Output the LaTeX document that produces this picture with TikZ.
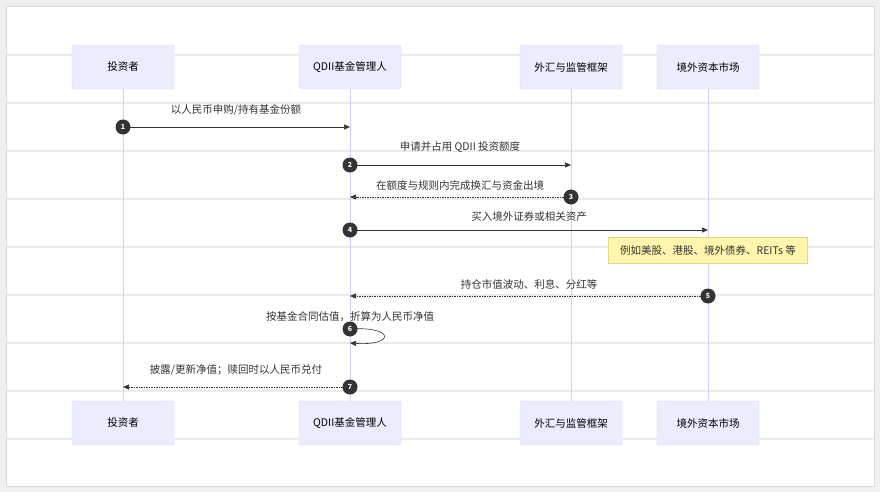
\documentclass[tikz,border=0pt]{standalone}
\usepackage{fontspec}
\setmainfont{Noto Sans CJK SC}
\usetikzlibrary{arrows.meta}
\definecolor{actfill}{HTML}{ECECFF}
\definecolor{actline}{HTML}{DCD6FA}
\definecolor{lifeline}{HTML}{D5CCF5}
\definecolor{stripe}{HTML}{EBEBEB}
\definecolor{frame}{HTML}{F0F0F0}
\definecolor{notefill}{HTML}{FFF5AD}
\definecolor{noteline}{HTML}{E3D887}
\definecolor{msg}{HTML}{333333}
\tikzset{
  actor/.style={draw=actline, fill=actfill, rounded corners=2pt, minimum width=102pt, minimum height=44pt, font=\fontsize{10.5}{12}\selectfont},
  lbl/.style={font=\fontsize{10.5}{12}\selectfont, text=msg, inner sep=0pt},
  num/.style={circle, fill=msg, text=white, inner sep=0pt, minimum size=15pt, font=\fontsize{7}{8}\selectfont\bfseries},
  call/.style={draw=msg, line width=0.6pt, -{Triangle[length=6pt,width=5pt]}},
  reply/.style={call, dash pattern=on 1.5pt off 1pt},
}
\begin{document}
\begin{tikzpicture}[x=1pt,y=-1pt]
	% FRAME
	\fill[frame] (0,0) rectangle (880,492);
	\draw[white!85!black, fill=white] (6,6) rectangle (874,486);
	\useasboundingbox (0,0) rectangle (880,492);
	\foreach \y in {55,103,151,199,247,295,343,391,439}
		\draw[stripe, line width=1.2pt] (7,\y) -- (873,\y);
	
	% ACTORS
	\node[actor] (inv) at (123,67) {投资者};
	\node[actor] (mgr) at (350,67) {QDII基金管理人};
	\node[actor] (fx) at (571,67) {外汇与监管框架};
	\node[actor] (mkt) at (708,67) {境外资本市场};
	\node[actor] (inv2) at (123,423) {投资者};
	\node[actor] (mgr2) at (350,423) {QDII基金管理人};
	\node[actor] (fx2) at (571,423) {外汇与监管框架};
	\node[actor] (mkt2) at (708,423) {境外资本市场};
	
	% LIFELINES
	\draw[lifeline, line width=0.8pt] (inv) -- (inv2); \draw[lifeline, line width=0.8pt] (mgr) -- (mgr2);
	\draw[lifeline, line width=0.8pt] (fx) -- (fx2); \draw[lifeline, line width=0.8pt] (mkt) -- (mkt2);
	
	% ANCHORS
	\coordinate (i1) at (123,127); \coordinate (m1) at (350,127);
	\coordinate (m2) at (350,165); \coordinate (f2) at (571,165);
	\coordinate (f3) at (571,197); \coordinate (m3) at (350,197);
	\coordinate (m4) at (350,230); \coordinate (k4) at (708,230);
	\coordinate (k5) at (708,296); \coordinate (m5) at (350,296);
	\coordinate (m6) at (350,329); \coordinate (m6b) at (350,343);
	\coordinate (m7) at (350,387); \coordinate (i7) at (123,387);
	
	% MESSAGES
	\draw[call] (i1) -- (m1); \node[lbl] (t1) at (236,110) {以人民币申购/持有基金份额};
	\draw[call] (m2) -- (f2); \node[lbl] (t2) at (460,147) {申请并占用 QDII 投资额度};
	\draw[reply] (f3) -- (m3); \node[lbl] (t3) at (460,185) {在额度与规则内完成换汇与资金出境};
	\draw[call] (m4) -- (k4); \node[lbl] (t4) at (529,217) {买入境外证券或相关资产};
	\draw[reply] (k5) -- (m5); \node[lbl] (t5) at (529,284) {持仓市值波动、利息、分红等};
	\draw[call] (m6) .. controls (395,326) and (395,346) .. (m6b); \node[lbl] (t6) at (350,317) {按基金合同估值，折算为人民币净值};
	\draw[reply] (m7) -- (i7); \node[lbl] (t7) at (236,370) {披露/更新净值；赎回时以人民币兑付};
	
	% NOTE
	\node[draw=noteline, fill=notefill, minimum width=199pt, minimum height=26pt, font=\fontsize{10.5}{12}\selectfont, text=msg] (note) at (708,250) {例如美股、港股、境外债券、REITs 等};
	
	% NUMBERS
	\node[num] (n1) at (i1) {1}; \node[num] (n2) at (m2) {2}; \node[num] (n3) at (f3) {3};
	\node[num] (n4) at (m4) {4}; \node[num] (n5) at (k5) {5}; \node[num] (n6) at (m6) {6};
	\node[num] (n7) at (m7) {7};
\end{tikzpicture}
\end{document}
